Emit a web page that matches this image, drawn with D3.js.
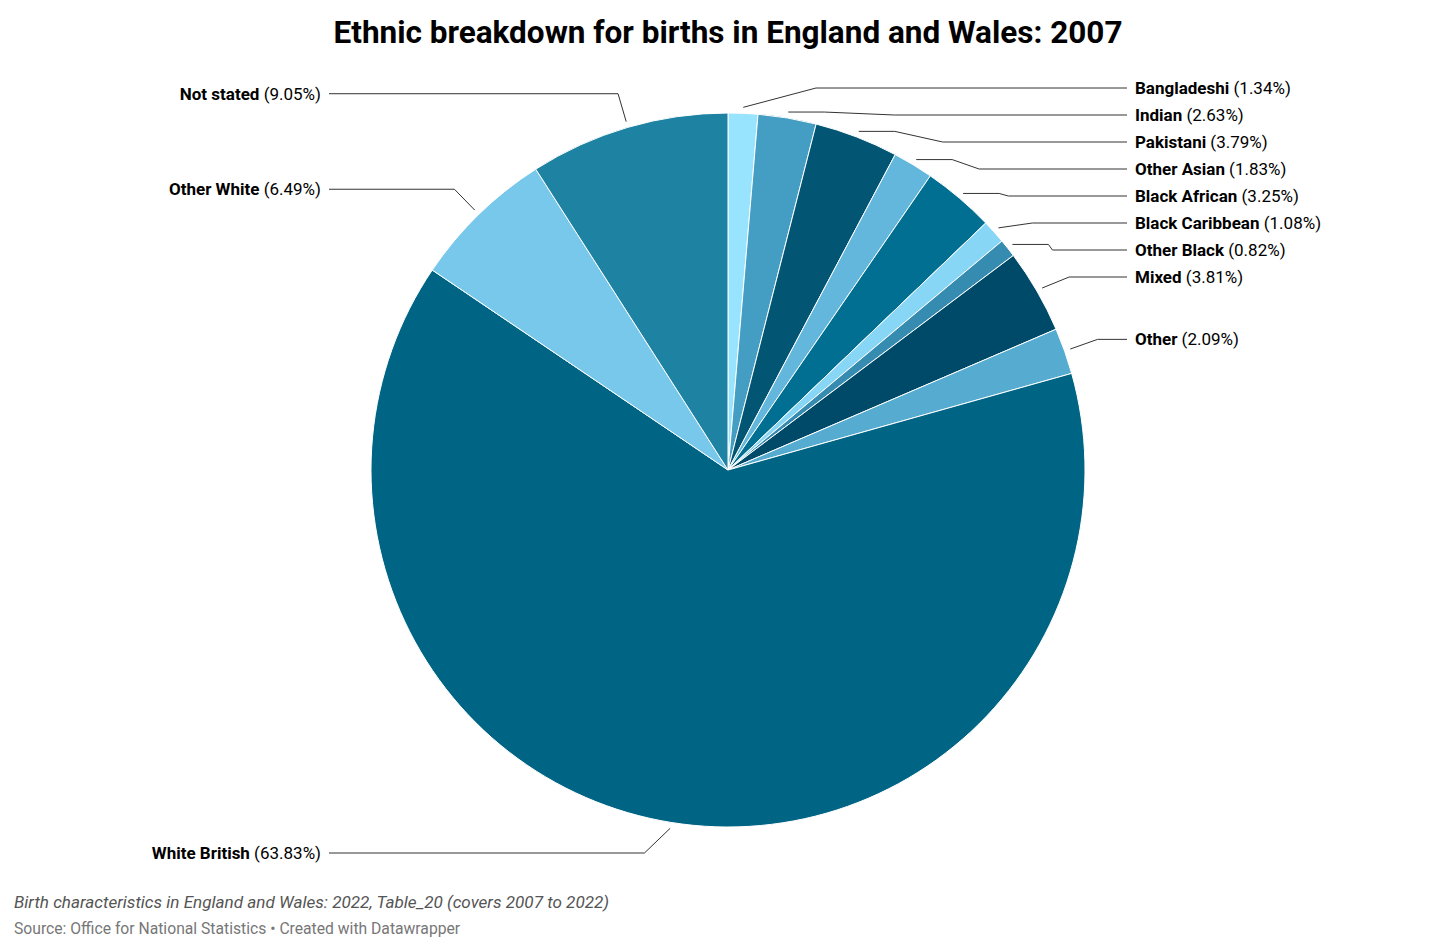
<!DOCTYPE html>
<html><head><meta charset="utf-8">
<script src="https://cdn.jsdelivr.net/npm/d3@7"></script>
<style>
body{margin:0;background:#fff;font-family:Roboto,"Noto Sans",sans-serif;}
svg text{font-family:Roboto,"Noto Sans",sans-serif;}
</style></head>
<body><svg id="chart" width="1456" height="952"></svg>
<script>
const categories = ["Bangladeshi","Indian","Pakistani","Other Asian","Black African","Black Caribbean","Other Black","Mixed","Other","White British","Other White","Not stated"];
const shares = [1.34,2.63,3.79,1.83,3.25,1.08,0.82,3.81,2.09,63.83,6.49,9.05];
const colors = ["#98e3fd","#449dc3","#035574","#64b7dc","#006f91","#87d6f6","#358bb0","#004a69","#56abd0","#006585","#78c8ec","#1e82a2"];
const title = "Ethnic breakdown for births in England and Wales: 2007";
const note = "Birth characteristics in England and Wales: 2022, Table_20 (covers 2007 to 2022)";
const source = "Source: Office for National Statistics • Created with Datawrapper";

const svg = d3.select("#chart");
const cx = 728, cy = 470, R = 357;
const startR = R + 6, elbowR = R + 35;
const labelGap = 27, topY = 88, bottomY = 853;

svg.append("text").attr("x", 728).attr("y", 43).attr("text-anchor","middle")
  .attr("font-size", 31.5).attr("font-weight", 700).attr("fill","#000").text(title);

const data = categories.map((c,i)=>({name:c, value:shares[i], color:colors[i]}));
const pie = d3.pie().value(d=>d.value).sort(null);
const arcs = pie(data);
const arc = d3.arc().innerRadius(0).outerRadius(R);

const g = svg.append("g").attr("transform", `translate(${cx},${cy})`);
g.selectAll("path").data(arcs).join("path")
  .attr("d", arc).attr("fill", d=>d.data.color)
  .attr("stroke","#fff").attr("stroke-width",1);

// label layout
const items = arcs.map(a=>{
  const m = (a.startAngle + a.endAngle)/2;
  const side = Math.sin(m) >= 0 ? 1 : -1;
  return {a, m, side,
    sx: cx + startR*Math.sin(m), sy: cy - startR*Math.cos(m),
    ny: cy - elbowR*Math.cos(m)};
});
[1,-1].forEach(side=>{
  const list = items.filter(d=>d.side===side).sort((p,q)=>p.ny-q.ny);
  let prev = -Infinity;
  list.forEach(d=>{ d.ly = Math.max(d.ny, prev + labelGap, topY); prev = d.ly; });
  let next = Infinity;
  for (let i=list.length-1;i>=0;i--){ const d=list[i]; d.ly = Math.min(d.ly, next - labelGap, bottomY); next = d.ly; }
});

const lines = svg.append("g");
const labels = svg.append("g");
items.forEach(d=>{
  const dy = d.ly - cy;
  const ex = cx + d.side*Math.sqrt(Math.max(0, elbowR*elbowR - dy*dy));
  const pts = [[d.sx, d.sy]];
  if (Math.abs(d.ly - cy) < Math.abs(d.sy - cy) - 1) pts.push([d.sx + d.side*36, d.sy]);
  pts.push([ex, d.ly]);
  const endX = d.side > 0 ? 1127 : 329;
  pts.push([endX, d.ly]);
  lines.append("path").attr("d", d3.line()(pts)).attr("fill","none")
    .attr("stroke","#333").attr("stroke-width",1);
  const t = labels.append("text")
    .attr("x", d.side>0 ? 1135 : 321).attr("y", d.ly).attr("dy","0.35em")
    .attr("text-anchor", d.side>0 ? "start" : "end")
    .attr("font-size", 17).attr("fill","#000");
  t.append("tspan").attr("font-weight",700).text(d.a.data.name);
  t.append("tspan").text(" (" + d.a.data.value.toFixed(2) + "%)");
});

svg.append("text").attr("x",14).attr("y",908).attr("font-size",17.1)
  .attr("font-style","italic").attr("fill","#555").text(note);
svg.append("text").attr("x",14).attr("y",934).attr("font-size",15.7)
  .attr("fill","#777").text(source);
</script></body></html>
